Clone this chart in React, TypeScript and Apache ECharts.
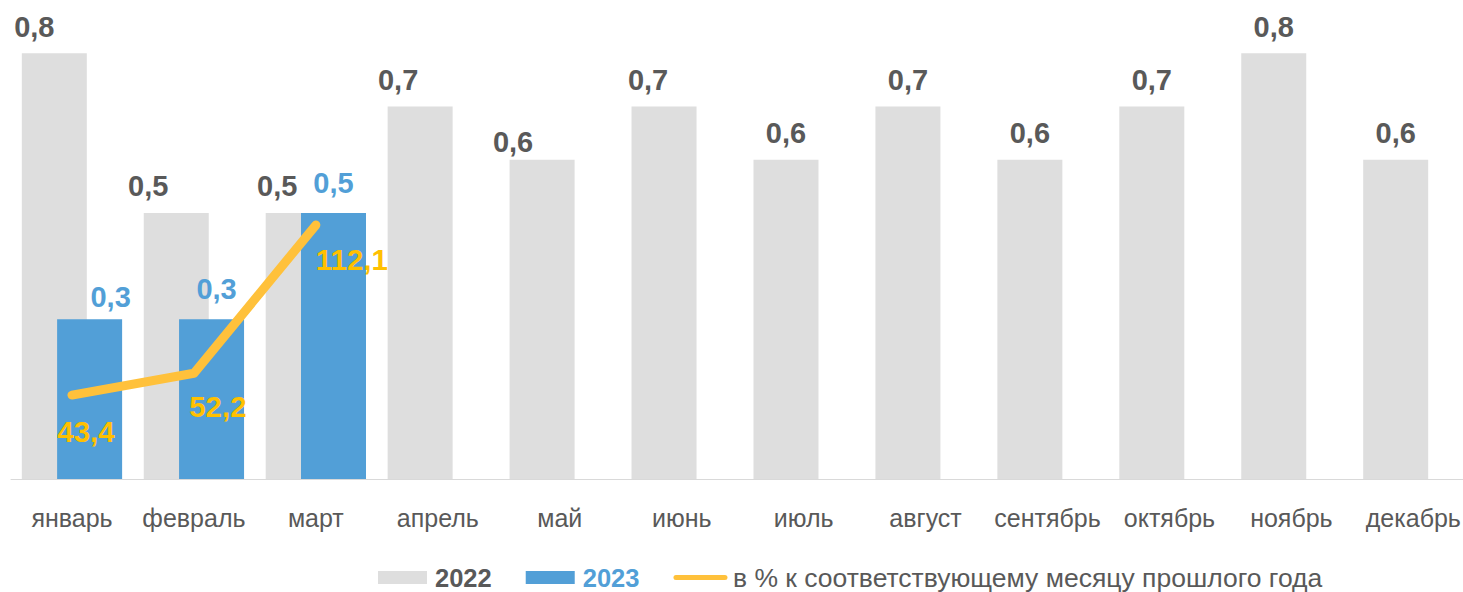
import React, { useEffect, useRef } from "react";
import * as echarts from "echarts";

const categories = [
  "январь", "февраль", "март", "апрель", "май", "июнь",
  "июль", "август", "сентябрь", "октябрь", "ноябрь", "декабрь",
];
const values2022 = [0.8, 0.5, 0.5, 0.7, 0.6, 0.7, 0.6, 0.7, 0.6, 0.7, 0.8, 0.6];
const values2023 = [0.3, 0.3, 0.5];
const pctPrevYear = [43.4, 52.2, 112.1];
const seriesNames = ["2022", "2023", "в % к соответствующему месяцу прошлого года"];

// label nudges (style only)
const shift2022 = [[-20, 0], [-28, 0], [-21, 0], [-22, 0], [-29, 9], [-16, 0], [0, 0], [0, 0], [0, 0], [0, 0], [0, 0], [0, 0]];
const shift2023 = [[21, 4], [5, -4], [0, -3]];
const shiftPct = [[14, 36], [24, 33], [36, 34]];

const FONT = 'Arial, "Liberation Sans", sans-serif';
const GRAY = "#DEDEDE";
const BLUE = "#529FD7";
const LINE = "#FFC13B";
const GOLD = "#FFC000";
const TEXT = "#595959";

const fmt = (p: any) => Number(p.value).toFixed(1).replace(".", ",");

export default function App() {
  const ref = useRef<HTMLDivElement>(null);
  useEffect(() => {
    if (!ref.current) return;
    const chart = echarts.init(ref.current, null, { renderer: "svg" });
    chart.setOption({
      animation: false,
      backgroundColor: "#ffffff",
      textStyle: { fontFamily: FONT },
      grid: { left: 11, top: 0, height: 479, width: 1463.3, containLabel: false },
      legend: {
        top: 564,
        left: 378,
        padding: 0,
        itemGap: 34,
        itemWidth: 49,
        itemHeight: 13,
        lineStyle: { width: 5, cap: "round" },
        textStyle: { fontFamily: FONT, fontSize: 25.5, padding: [0, 0, 0, 3] },
        data: [
          { name: seriesNames[0], icon: "rect", textStyle: { color: TEXT, fontWeight: "bold" } },
          { name: seriesNames[1], icon: "rect", textStyle: { color: BLUE, fontWeight: "bold" } },
          {
            name: seriesNames[2],
            itemStyle: { opacity: 0 },
            textStyle: { color: TEXT, fontSize: 26.5 },
          },
        ],
      },
      xAxis: {
        type: "category",
        data: categories,
        axisTick: { show: false },
        axisLine: { lineStyle: { color: "#D9D9D9", width: 1 } },
        axisLabel: { color: TEXT, fontSize: 25, fontFamily: FONT, margin: 26, interval: 0 },
      },
      yAxis: [
        { type: "value", min: 0, max: 0.9, show: false },
        { type: "value", min: 9.5, max: 203, show: false },
      ],
      series: [
        {
          name: seriesNames[0],
          type: "bar",
          barWidth: 65,
          barGap: "-45.7%",
          itemStyle: { color: GRAY },
          label: {
            show: true,
            position: "top",
            distance: 12,
            color: TEXT,
            fontSize: 29,
            fontWeight: "bold",
            fontFamily: FONT,
            formatter: fmt,
          },
          data: values2022.map((v, i) => ({ value: v, label: { offset: shift2022[i] } })),
        },
        {
          name: seriesNames[1],
          type: "bar",
          barWidth: 65,
          barGap: "-45.7%",
          itemStyle: { color: BLUE },
          label: {
            show: true,
            position: "top",
            distance: 12,
            color: BLUE,
            fontSize: 29,
            fontWeight: "bold",
            fontFamily: FONT,
            formatter: fmt,
          },
          data: values2023.map((v, i) => ({ value: v, label: { offset: shift2023[i] } })),
        },
        {
          name: seriesNames[2],
          type: "line",
          yAxisIndex: 1,
          z: 5,
          symbol: "circle",
          symbolSize: 2,
          itemStyle: { color: LINE },
          lineStyle: { color: LINE, width: 9, cap: "round", join: "round" },
          label: {
            show: true,
            position: "inside",
            color: GOLD,
            fontSize: 29.5,
            fontWeight: "bold",
            fontFamily: FONT,
            formatter: fmt,
          },
          data: pctPrevYear.map((v, i) => ({ value: v, label: { offset: shiftPct[i] } })),
        },
      ],
    });
    return () => chart.dispose();
  }, []);
  return (
    <div
      style={{
        position: "absolute",
        left: 0,
        top: 0,
        width: 1463,
        height: 592,
        overflow: "hidden",
      }}
    >
      <div ref={ref} style={{ width: 1475, height: 592 }} />
    </div>
  );
}
